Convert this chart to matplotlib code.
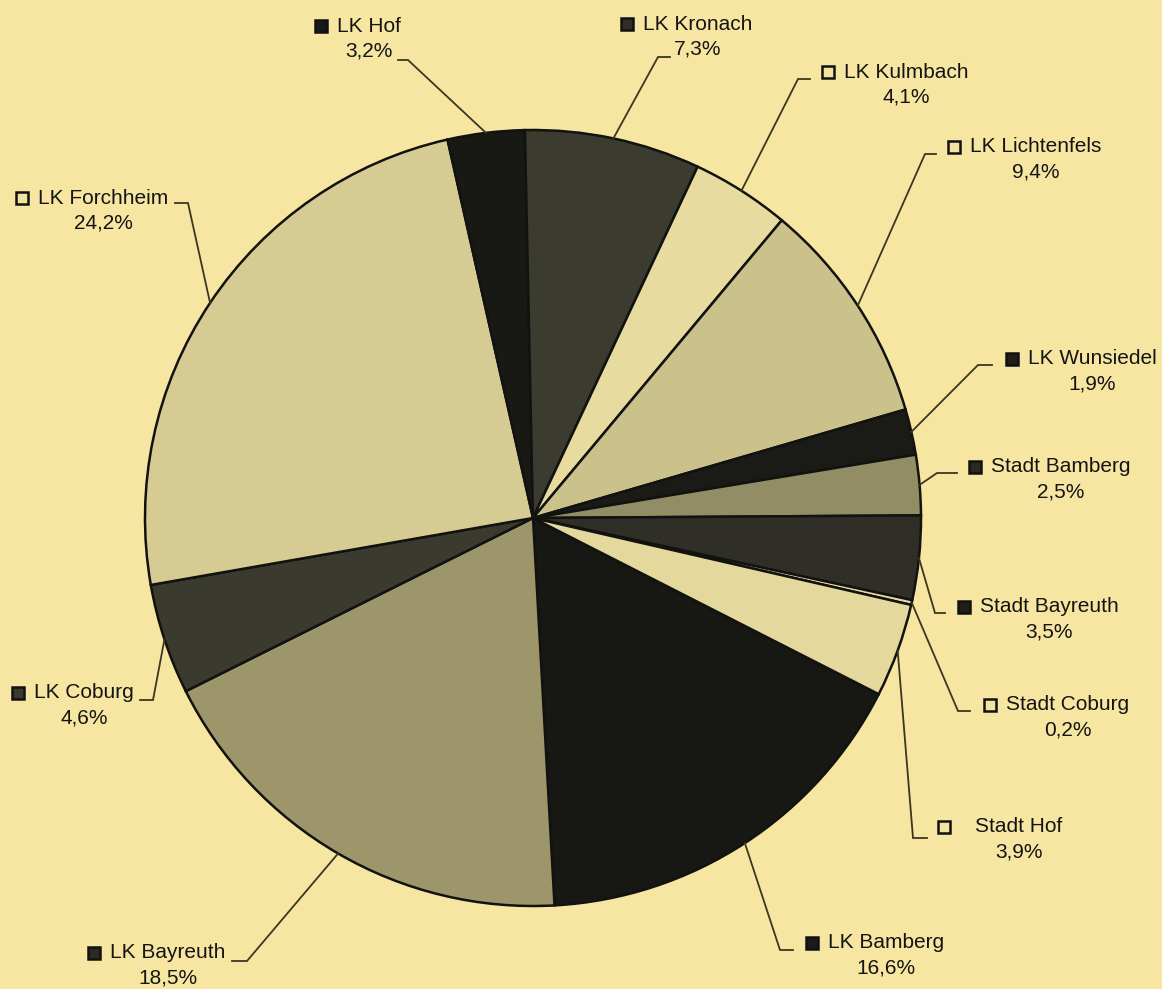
import numpy as np
import matplotlib
matplotlib.use('Agg')
import matplotlib.pyplot as plt

# Daten (Anteile in %)
kreise = ['LK Bamberg', 'LK Bayreuth', 'LK Coburg', 'LK Forchheim', 'LK Hof',
          'LK Kronach', 'LK Kulmbach', 'LK Lichtenfels', 'LK Wunsiedel',
          'Stadt Bamberg', 'Stadt Bayreuth', 'Stadt Coburg', 'Stadt Hof']
anteile = [16.6, 18.5, 4.6, 24.2, 3.2, 7.3, 4.1, 9.4, 1.9, 2.5, 3.5, 0.2, 3.9]

# Farben der Segmente und der Legendenkästchen
farben = ['#171714', '#9d966b', '#3a3a2e', '#d6cc93', '#181815', '#3c3b2f',
          '#e7dba0', '#cbc18b', '#1a1a16', '#938d66', '#2f2f27', '#e7dba0', '#e4d89d']
kasten = ['#1a1a17', '#2a2a22', '#3a3a2e', '#f3e3a0', '#181815', '#2e2e26',
          '#f3e3a0', '#f3e3a0', '#202019', '#2a2a22', '#202019', '#f3e3a0', '#f3e3a0']

# Layout der Beschriftungen (Pixel im Bild): Textmitte, Knick der Linie, Linienende
text_pos = [(886, 943), (168, 953), (84, 693), (103, 198), (369, 26),
            (698, 24), (906, 72), (1036, 147), (1092, 359),
            (1061, 467), (1049, 607), (1068, 705), (1019, 827)]
knick = [(780, 950), (247, 961), (153, 700), (188, 203), (408, 60),
         (658, 57), (798, 79), (925, 154), (978, 365),
         (937, 473), (935, 613), (958, 711), (913, 838)]
linie_ende = [793, 232, 140, 175, 398, 670, 810, 936, 992, 957, 945, 970, 927]
kasten_abstand = [10, 10, 10, 10, 10, 10, 10, 10, 10, 10, 10, 10, 25]

W, H = 1162, 989
hintergrund = '#f6e6a2'
zentrum = (533, 518)
radius = 388

fig = plt.figure(figsize=(W / 100, H / 100), dpi=100, facecolor=hintergrund)
ax = fig.add_axes([0, 0, 1, 1])
ax.set_facecolor(hintergrund)

wedges, _ = ax.pie(anteile, colors=farben, startangle=27, counterclock=True,
                   center=zentrum, radius=radius,
                   wedgeprops=dict(edgecolor='#121210', linewidth=1.8))
ax.set_xlim(0, W)
ax.set_ylim(H, 0)
ax.set_aspect('equal')
ax.axis('off')

fig.canvas.draw()
renderer = fig.canvas.get_renderer()
inv = ax.transData.inverted()

for i, w in enumerate(wedges):
    # Ankerpunkt auf dem Kreisrand in der Segmentmitte
    theta = np.deg2rad((w.theta1 + w.theta2) / 2)
    ax_x = zentrum[0] + radius * np.cos(theta)
    ax_y = zentrum[1] + radius * np.sin(theta)
    kx, ky = knick[i]
    ax.plot([ax_x, kx, linie_ende[i]], [ax_y, ky, ky], color='#3b3620', lw=1.3,
            solid_joinstyle='miter')

    cx, cy = text_pos[i]
    t = ax.text(cx, cy, kreise[i], ha='center', va='center', fontsize=15,
                family='Liberation Sans', color='#141414')
    pct = f'{anteile[i]:.1f}'.replace('.', ',') + '%'
    ax.text(cx, cy + 25, pct, ha='center', va='center', fontsize=15,
            family='Liberation Sans', color='#141414')

    bb = t.get_window_extent(renderer)
    x0 = inv.transform((bb.x0, 0))[0]
    ax.plot(x0 - kasten_abstand[i] - 6, cy, marker='s', markersize=8,
            mfc=kasten[i], mec='#111111', mew=1.8)

plt.savefig('out.png', dpi=100, facecolor=hintergrund)
